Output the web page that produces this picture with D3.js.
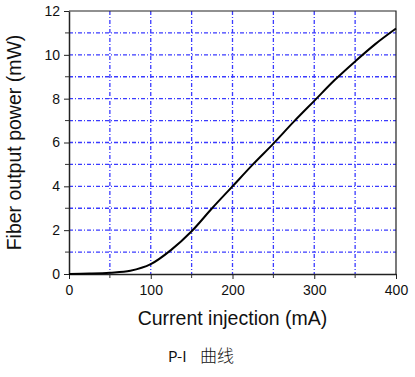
<!DOCTYPE html>
<html>
<head>
<meta charset="utf-8">
<script src="https://cdn.jsdelivr.net/npm/d3@7"></script>
<style>
  body { margin: 0; background: #fff; }
  svg { display: block; }
</style>
</head>
<body>
<script>
// current (mA) vs fiber output power (mW)
let current = [0, 25, 50, 75, 100, 125, 150, 175, 200, 225, 250, 275, 300, 325, 350, 375, 400];
let power = [0, 0.02, 0.06, 0.15, 0.45, 1.1, 1.95, 3.0, 4.0, 5.0, 5.95, 6.95, 7.9, 8.85, 9.7, 10.5, 11.2];
let xTicks = [0, 100, 200, 300, 400];
let yTicks = [0, 2, 4, 6, 8, 10, 12];

let size = {width: 415, height: 377};
let margin = {top: 11, right: 19, bottom: 103, left: 69};

let svg = d3.select("body").append("svg")
    .attr("width", size.width)
    .attr("height", size.height);

let x = d3.scaleLinear().domain([0, 400]).range([margin.left, size.width - margin.right]);
let y = d3.scaleLinear().domain([0, 12]).range([size.height - margin.bottom, margin.top]);

let font = "Liberation Sans, Arial, sans-serif";

// grid, blue dash-dot
let grid = svg.append("g");

grid.selectAll("line.gx")
    .data(d3.range(50, 400, 50))
    .join("line")
    .attr("class", "gx")
    .attr("x1", d => x(d))
    .attr("x2", d => x(d))
    .attr("y1", y(12))
    .attr("y2", y(0));

grid.selectAll("line.gy")
    .data(d3.range(1, 12, 1))
    .join("line")
    .attr("class", "gy")
    .attr("y1", d => y(d))
    .attr("y2", d => y(d))
    .attr("x1", x(0))
    .attr("x2", x(400));

grid.selectAll("line")
    .style("stroke", "#3b3bff")
    .style("stroke-width", "1.3px")
    .style("stroke-dasharray", "4,2,1,2");

// axes
let xAxis = d3.axisBottom(x).tickValues(xTicks).tickSize(5).tickSizeOuter(0);
let yAxis = d3.axisLeft(y).tickValues(yTicks).tickSize(5).tickSizeOuter(0);

let gx = svg.append("g")
    .attr("transform", `translate(0,${y(0)})`)
    .call(xAxis);
let gy = svg.append("g")
    .attr("transform", `translate(${x(0)},0)`)
    .call(yAxis);

// minor ticks
svg.append("g").selectAll("line")
    .data(d3.range(50, 400, 100))
    .join("line")
    .attr("x1", d => x(d)).attr("x2", d => x(d))
    .attr("y1", y(0)).attr("y2", y(0) + 4)
    .attr("stroke", "#333");
svg.append("g").selectAll("line")
    .data(d3.range(1, 12, 2))
    .join("line")
    .attr("y1", d => y(d)).attr("y2", d => y(d))
    .attr("x1", x(0)).attr("x2", x(0) - 4)
    .attr("stroke", "#333");

[gx, gy].forEach(g => {
    g.selectAll(".domain").attr("stroke", "#222").attr("stroke-width", 1.5);
    g.selectAll(".tick line").attr("stroke", "#222");
    g.selectAll("text")
        .attr("font-family", font)
        .attr("font-size", 14)
        .attr("fill", "#111");
});
gx.selectAll("text").attr("dy", "0.95em");
gy.selectAll("text").attr("x", -9);

// top and right frame
svg.append("path")
    .attr("d", `M${x(0)},${y(12)}H${x(400)}V${y(0)}`)
    .attr("fill", "none")
    .attr("stroke", "#222")
    .attr("stroke-width", 1.2);

// curve
svg.append("path")
    .datum(current.map((c, i) => [c, power[i]]))
    .attr("d", d3.line().x(d => x(d[0])).y(d => y(d[1])).curve(d3.curveCatmullRom))
    .attr("fill", "none")
    .attr("stroke", "#000")
    .attr("stroke-width", 2);

// titles
svg.append("text")
    .attr("x", (x(0) + x(400)) / 2)
    .attr("y", 325)
    .attr("text-anchor", "middle")
    .attr("font-family", font)
    .attr("font-size", 19.5)
    .attr("fill", "#111")
    .text("Current injection (mA)");

svg.append("text")
    .attr("transform", `translate(21,${(y(0) + y(12)) / 2}) rotate(-90)`)
    .attr("text-anchor", "middle")
    .attr("font-family", font)
    .attr("font-size", 19.5)
    .attr("fill", "#111")
    .text("Fiber output power (mW)");

let caption = svg.append("text")
    .attr("x", 168)
    .attr("y", 362)
    .attr("font-family", "Noto Sans CJK SC, sans-serif")
    .attr("fill", "#111");
caption.append("tspan").attr("font-size", 15).text("P-I");
caption.append("tspan").attr("x", 200).attr("font-size", 17).attr("font-weight", 300).text("曲线");
</script>
</body>
</html>
